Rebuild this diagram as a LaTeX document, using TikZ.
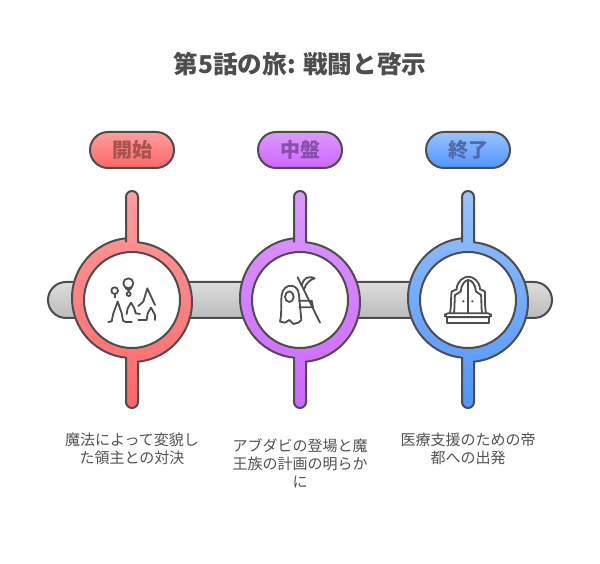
\documentclass[tikz,border=0pt]{standalone}
\usepackage{fontspec}
\setmainfont{Noto Sans CJK JP}
\usetikzlibrary{shapes.misc}
\definecolor{ink}{HTML}{4D4D4D}
\definecolor{txt}{HTML}{525252}
\definecolor{redA}{HTML}{FF9D9D}\definecolor{redB}{HTML}{FF6666}
\definecolor{purA}{HTML}{DD99FF}\definecolor{purB}{HTML}{CC66FF}
\definecolor{bluA}{HTML}{99C2FF}\definecolor{bluB}{HTML}{4D94FF}
\definecolor{gryA}{HTML}{DDDDDD}\definecolor{gryB}{HTML}{BBBBBB}
\definecolor{redT}{HTML}{A85252}\definecolor{purT}{HTML}{8650A8}\definecolor{bluT}{HTML}{4F6CA8}
\tikzset{
  x=1pt,y=1pt,
  outl/.style={draw=ink,line width=2pt},
  pill/.style={rounded rectangle,outl,minimum width=84pt,minimum height=36pt,inner sep=0pt,font=\fontsize{20}{20}\selectfont\bfseries},
  hub/.style={circle,outl,fill=white,minimum size=96pt,inner sep=0pt},
  desc/.style={align=center,text=txt,inner sep=0pt,font=\fontsize{15}{18}\selectfont},
  ico/.style={draw=ink,line width=1.8pt,line join=round,line cap=round},
  pen/.style={x=1pt/3,y=-1pt/3,ico}
}
% keyhole outline: vertical bar merged with the ring
\newcommand{\keyhole}[3]{%
  \path[outl,top color=#2,bottom color=#3,shading angle=0]
   ({#1-6},321.7) -- ({#1-6},367) arc[start angle=180,end angle=0,radius=6]
   -- ({#1+6},321.7) arc[start angle=84.26,end angle=5.74,radius=60]
   arc[start angle=5.74,end angle=-84.26,radius=60]
   -- ({#1+6},162) arc[start angle=0,end angle=-180,radius=6]
   -- ({#1-6},206.3) arc[start angle=-95.74,end angle=-174.26,radius=60]
   arc[start angle=185.74,end angle=95.74,radius=60] -- cycle;}
\begin{document}
\begin{tikzpicture}
\useasboundingbox (0,0) rectangle (600,564);
\node[text=ink,inner sep=0pt,font=\fontsize{24.6}{24.6}\selectfont\bfseries] (title) at (300,500) {第5話の旅: 戦闘と啓示};
\node[rounded rectangle,outl,top color=gryA,bottom color=gryB,minimum width=504pt,minimum height=36pt,inner sep=0pt] (bar) at (300,264) {};
\keyhole{132}{redA}{redB}
\keyhole{300}{purA}{purB}
\keyhole{468}{bluA}{bluB}
\node[hub] (h1) at (132,264) {};
\node[hub] (h2) at (300,264) {};
\node[hub] (h3) at (468,264) {};
\node[pill,top color=redA,bottom color=redB,text=redT] (p1) at (132,414) {開始};
\node[pill,top color=purA,bottom color=purB,text=purT] (p2) at (300,414) {中盤};
\node[pill,top color=bluA,bottom color=bluB,text=bluT] (p3) at (468,414) {終了};
\node[desc] (d1) at (132,115) {魔法によって変貌し\\た領主との対決};
\node[desc] (d2) at (300,101) {アブダビの登場と魔\\王族の計画の明らか\\に};
\node[desc] (d3) at (468,115) {医療支援のための帝\\都への出発};
% icon 1
\begin{scope}[shift={(85,304)},pen]
\draw (130,70) circle[radius=15];
\draw (131,102) circle[radius=6];
\draw (122,84) -- (131,91) -- (139,84);
\draw (89,92) circle[radius=10];
\draw (89,102) -- (89,112);
\draw (70,186) -- (80,184) -- (85,160) -- (98,125) -- (110,160) -- (114,182) -- (122,186) -- (140,186);
\draw (125,162) -- (128,145) -- (138,128) -- (148,145) -- (152,160) -- (165,162);
\draw (160,138) -- (175,125) -- (187,85) -- (202,118) -- (210,135);
\draw (160,180) -- (185,180) -- (188,160) -- (198,143) -- (210,165) -- (210,180);
\end{scope}
% icon 2
\begin{scope}[shift={(230,334)},pen]
\draw (150,275) .. controls (156,250) and (152,220) .. (155,195) .. controls (160,158) and (205,158) .. (207,195) -- (214,270) -- (205,278) -- (190,282) -- (178,270) -- (165,278) -- cycle;
\draw (178,200) ellipse[x radius=13,y radius=16];
\draw (207,212) -- (245,212) -- (249,232) -- (208,232);
\draw (203,142) -- (270,278);
\draw (215,165) .. controls (220,145) and (235,136) .. (254,145) .. controls (238,150) and (228,160) .. (222,178);
\end{scope}
% icon 3
\begin{scope}[shift={(400,334)},pen]
\draw[rounded corners=3pt] (135,250) rectangle (273,262);
\draw (140,262) rectangle (268,280);
\draw (150,248) .. controls (155,225) and (152,195) .. (155,185) .. controls (160,178) and (168,182) .. (170,178) .. controls (170,155) and (190,140) .. (205,140) .. controls (220,140) and (240,155) .. (240,178) .. controls (242,182) and (250,178) .. (255,185) .. controls (256,195) and (253,225) .. (258,248);
\draw (162,248) .. controls (165,225) and (163,205) .. (165,195) .. controls (170,188) and (178,192) .. (182,185) .. controls (183,165) and (195,150) .. (205,150) .. controls (215,150) and (227,165) .. (228,185) .. controls (232,192) and (240,188) .. (243,195) .. controls (245,205) and (243,225) .. (246,248);
\draw (205,150) -- (205,248);
\fill[ink] (190,214) circle[radius=3.5] (217,214) circle[radius=3.5];
\end{scope}
\end{tikzpicture}
\end{document}
